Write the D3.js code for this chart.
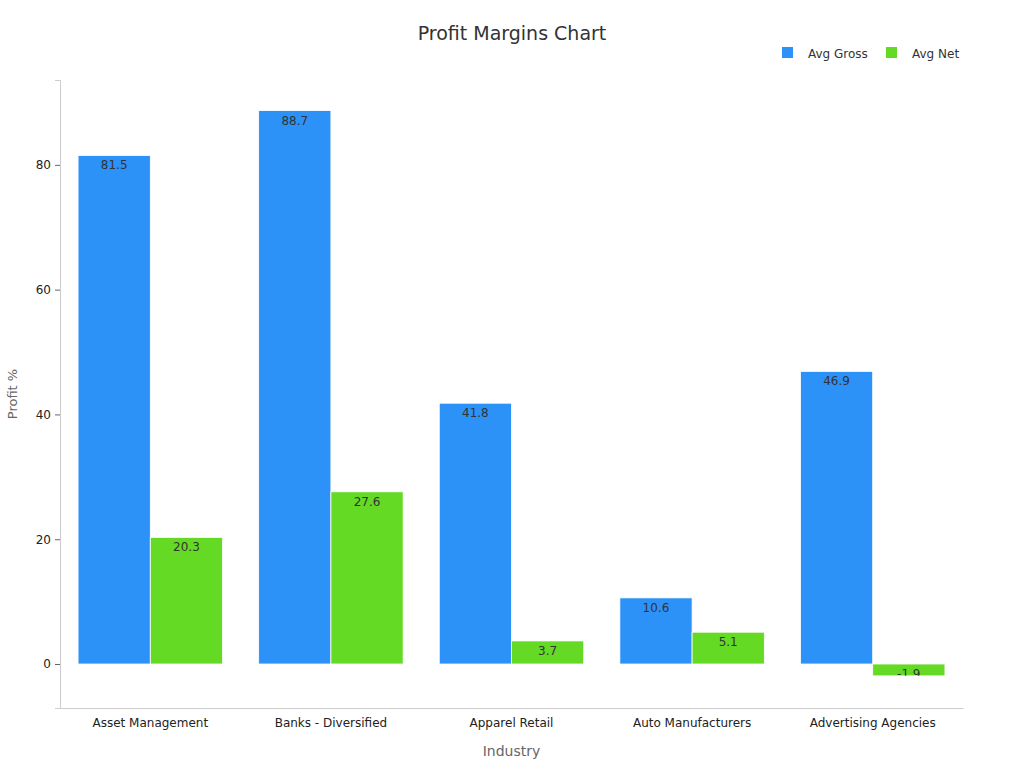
<!DOCTYPE html>
<html><head><meta charset="utf-8">
<script src="https://cdn.jsdelivr.net/npm/d3@7"></script>
<style>body{margin:0;background:#fff;font-family:"DejaVu Sans",sans-serif}</style>
</head><body><div id="chart"></div>
<script>
const industries = ["Asset Management", "Banks - Diversified", "Apparel Retail", "Auto Manufacturers", "Advertising Agencies"];
const avgGross = [81.5, 88.7, 41.8, 10.6, 46.9];
const avgNet = [20.3, 27.6, 3.7, 5.1, -1.9];
const seriesNames = ["Avg Gross", "Avg Net"];
const colors = ["#2d92f7", "#64da25"];
const yTicks = [0, 20, 40, 60, 80];

const svg = d3.select("#chart").append("svg").attr("width", 1024).attr("height", 768);
const mLeft = 60, mRight = 963, mTop = 80, mBottom = 708;

const x = d3.scaleBand().domain(industries).range([mLeft, mRight]).paddingInner(0.2).paddingOuter(0.1);
const xs = d3.scaleBand().domain(seriesNames).range([0, x.bandwidth()]);
const y = d3.scaleLinear().domain([-7.05, 93.6]).range([mBottom, mTop]);

svg.append("text").attr("x", 512).attr("y", 40).attr("text-anchor", "middle")
    .attr("font-size", 19).attr("fill", "#333").text("Profit Margins Chart");

// axes
const gx = svg.append("g").attr("transform", `translate(0,${mBottom})`).call(d3.axisBottom(x).tickSize(0).tickPadding(10));
gx.select(".domain").attr("stroke", "#ccc");
gx.selectAll("text").attr("font-size", 12).attr("fill", "#222").attr("font-family", "DejaVu Sans");
const gy = svg.append("g").attr("transform", `translate(${mLeft},0)`).call(d3.axisLeft(y).tickValues(yTicks).tickSize(5).tickPadding(4));
gy.select(".domain").attr("stroke", "#ccc");
gy.selectAll(".tick line").attr("stroke", "#666");
gy.selectAll("text").attr("font-size", 12).attr("fill", "#222").attr("font-family", "DejaVu Sans");

svg.append("text").attr("x", (mLeft + mRight) / 2).attr("y", 756).attr("text-anchor", "middle")
    .attr("font-size", 14).attr("fill", "#666").text("Industry");
svg.append("text").attr("transform", "translate(17,394) rotate(-90)").attr("text-anchor", "middle")
    .attr("font-size", 13).attr("fill", "#666").text("Profit %");

const series = [avgGross, avgNet];
series.forEach((vals, si) => {
    const g = svg.append("g");
    vals.forEach((v, i) => {
        const bx = x(industries[i]) + xs(seriesNames[si]);
        const y0 = y(Math.max(0, v)), h = Math.abs(y(v) - y(0));
        const id = "clip" + si + "_" + i;
        svg.append("clipPath").attr("id", id).append("rect")
            .attr("x", bx).attr("y", y0).attr("width", xs.bandwidth()).attr("height", h);
        g.append("rect").attr("x", bx).attr("y", y0).attr("width", xs.bandwidth()).attr("height", h)
            .attr("fill", colors[si]).attr("stroke", "#fff").attr("stroke-width", 0.8);
        g.append("text").attr("clip-path", `url(#${id})`)
            .attr("x", bx + xs.bandwidth() / 2).attr("y", y0 + 14).attr("text-anchor", "middle")
            .attr("font-size", 12).attr("fill", "#333").text(v);
    });
});

// legend
const leg = svg.append("g");
[[782, 0], [886, 1]].forEach(([lx, i]) => {
    leg.append("rect").attr("x", lx).attr("y", 47).attr("width", 11).attr("height", 11).attr("fill", colors[i]);
    leg.append("text").attr("x", lx + 26).attr("y", 58).attr("font-size", 12).attr("fill", "#333").text(seriesNames[i]);
});
</script></body></html>
